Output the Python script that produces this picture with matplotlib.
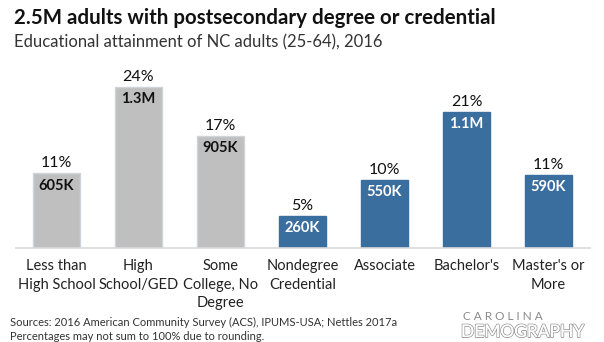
import matplotlib.pyplot as plt
import matplotlib.patheffects as pe

plt.rcParams['font.family'] = ['Lato', 'DejaVu Sans']

categories = ["Less than\nHigh School", "High\nSchool/GED", "Some\nCollege, No\nDegree",
              "Nondegree\nCredential", "Associate", "Bachelor's", "Master's or\nMore"]
counts_k = [605, 1300, 905, 260, 550, 1100, 590]
count_labels = ["605K", "1.3M", "905K", "260K", "550K", "1.1M", "590K"]
pct_labels = ["11%", "24%", "17%", "5%", "10%", "21%", "11%"]
postsecondary = [False, False, False, True, True, True, True]

gray = "#bfbfbf"
blue = "#3a6e9f"

fig = plt.figure(figsize=(6.04, 3.42), dpi=100)
ax = fig.add_axes([15.5 / 604, 1 - 248 / 342, 574 / 604, 186 / 342])

colors = [blue if p else gray for p in postsecondary]
edges = ["#3a6e9f" if p else "#d0d4d8" for p in postsecondary]
x = range(len(categories))
ax.bar(x, counts_k, width=0.57, color=colors, edgecolor=edges, linewidth=1)

for i, v in enumerate(counts_k):
    ax.text(i, v + 22, pct_labels[i], ha='center', va='bottom', fontsize=11.5,
            color='#111111')
    ax.text(i, v - 45, count_labels[i], ha='center', va='top', fontsize=10.5,
            fontweight='bold', color='white' if postsecondary[i] else '#111111')

ax.set_xlim(-0.5, 6.5)
ax.set_ylim(0, 1500)
ax.set_yticks([])
ax.set_xticks(list(x))
ax.set_xticklabels(categories, fontsize=10.5, color='#222222', linespacing=1.4)
ax.tick_params(axis='x', length=0, pad=8)
for s in ['top', 'right', 'left']:
    ax.spines[s].set_visible(False)
ax.spines['bottom'].set_color('#d9d9d9')
ax.spines['bottom'].set_linewidth(1.2)

fig.text(14 / 604, 1 - 18 / 342, "2.5M adults with postsecondary degree or credential",
         fontsize=14.8, fontweight='bold', va='center', color='#111111')
fig.text(14 / 604, 1 - 42 / 342, "Educational attainment of NC adults (25-64), 2016",
         fontsize=12, va='center', color='#333333')

fig.text(10 / 604, 1 - 322 / 342,
         "Sources: 2016 American Community Survey (ACS), IPUMS-USA; Nettles 2017a",
         fontsize=8, va='center', color='#333333')
fig.text(10 / 604, 1 - 336 / 342, "Percentages may not sum to 100% due to rounding.",
         fontsize=8, va='center', color='#333333')

fig.text(463 / 604, 1 - 317 / 342, "C A R O L I N A", fontsize=8.5, va='center',
         color='#8a8a8a')
fig.text(461 / 604, 1 - 332 / 342, "DEMOGRAPHY", fontsize=12.5, va='center',
         color='white',
         path_effects=[pe.withStroke(linewidth=1.3, foreground='#9a9a9a'), pe.Normal()])

fig.savefig('out.png', dpi=100)
plt.close()
